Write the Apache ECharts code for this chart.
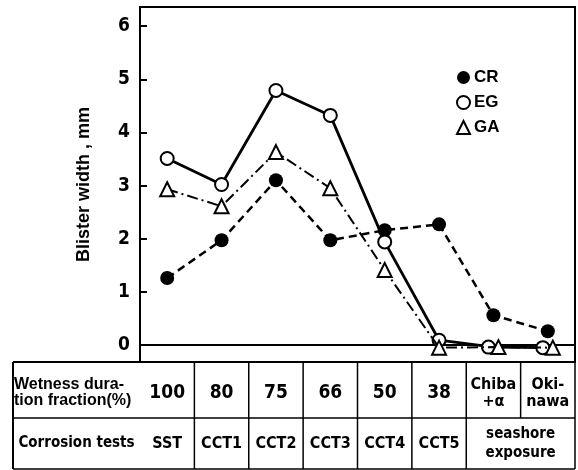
<!DOCTYPE html>
<html>
<head>
<meta charset="utf-8">
<script src="https://cdn.jsdelivr.net/npm/echarts@6/dist/echarts.min.js"></script>
<style>
  html, body { margin: 0; padding: 0; background: #fff; }
  #main { width: 578px; height: 470px; }
</style>
</head>
<body>
<div id="main"></div>
<script>
// data
const wetness = ["100", "80", "75", "66", "50", "38", "Chiba\n+α", "Oki-\nnawa"];
const corrosionTests = ["SST", "CCT1", "CCT2", "CCT3", "CCT4", "CCT5"];
const seashoreLabel = "seashore\nexposure";
const crValues = [1.26, 1.97, 3.1, 1.97, 2.16, 2.27, 0.56, 0.26];
const egValues = [3.51, 3.02, 4.79, 4.32, 1.94, 0.09, -0.04, -0.05];
const gaValues = [2.93, 2.61, 3.63, 2.95, 1.41, -0.05, -0.04, -0.05];
const yTicks = [0, 1, 2, 3, 4, 5, 6];

const narrow = "'DejaVu Sans', sans-serif";
const sans = "'Liberation Sans', Arial, sans-serif";

// layout
const W = 578, H = 470;
const gridLeft = 140, gridTop = 7, gridRight = 3, gridBottom = 108;
const plotRight = W - gridRight;
const tableTop = H - gridBottom;
const tableMid = 418, tableBottom = 469, tableLeft = 13;
const colW = (W - gridLeft - gridRight) / wetness.length;

const chart = echarts.init(document.getElementById("main"));

// nudge overlapping markers at the last two columns apart
const egData = egValues.map((v, i) => i >= 6 ? { value: v, symbolOffset: [-5, 0] } : v);
const gaData = gaValues.map((v, i) => i >= 6 ? { value: v, symbolOffset: [5, 0] } : v);

const g = [];
const line = (x1, y1, x2, y2, w) => g.push({
  type: "line", shape: { x1, y1, x2, y2 },
  style: { stroke: "#000", lineWidth: w || 1.5 }
});
// table frame
line(tableLeft, tableTop, gridLeft, tableTop, 2);
line(tableLeft, tableTop, tableLeft, tableBottom, 2);
line(tableLeft, tableMid, plotRight, tableMid, 1.5);
line(tableLeft, tableBottom, plotRight, tableBottom, 1.5);
for (let k = 1; k <= wetness.length; k++) {
  const x = gridLeft + k * colW;
  line(x, tableTop, x, k === 7 ? tableMid : tableBottom, 1.5);
}
// table texts
g.push({
  type: "text", left: tableLeft + 1, top: 377,
  style: { text: "Wetness dura-\ntion fraction(%)", font: "bold 16px " + sans, fill: "#000", lineHeight: 16 }
});
g.push({
  type: "text", x: (tableLeft + gridLeft) / 2, y: 443,
  style: { text: "Corrosion tests", font: "bold condensed 15px " + narrow, fill: "#000", align: "center", verticalAlign: "middle" }
});
corrosionTests.forEach((t, i) => g.push({
  type: "text", x: gridLeft + (i + 0.5) * colW, y: 444,
  style: { text: t, font: "bold condensed 16px " + narrow, fill: "#000", align: "center", verticalAlign: "middle" }
}));
g.push({
  type: "text", x: gridLeft + 7 * colW, y: 444,
  style: { text: seashoreLabel, font: "bold condensed 15px " + narrow, fill: "#000", align: "center", verticalAlign: "middle", lineHeight: 19 }
});

const option = {
  animation: false,
  backgroundColor: "#fff",
  grid: {
    left: gridLeft, right: gridRight, top: gridTop, bottom: gridBottom,
    show: true, borderColor: "#000", borderWidth: 2, backgroundColor: "transparent"
  },
  legend: {
    orient: "vertical",
    left: 451, top: 64,
    itemWidth: 13, itemHeight: 13, itemGap: 8,
    textStyle: { color: "#000", fontWeight: "bold", fontSize: 17, fontFamily: sans, padding: [0, 0, 0, -1] },
    data: [
      { name: "CR", icon: "circle", itemStyle: { color: "#000" } },
      { name: "EG", icon: "emptyCircle", itemStyle: { color: "#000", borderColor: "#000", borderWidth: 1.5 } },
      { name: "GA", icon: "emptyTriangle", itemStyle: { color: "#000", borderColor: "#000", borderWidth: 1.5 } }
    ]
  },
  xAxis: {
    type: "category",
    data: wetness,
    boundaryGap: true,
    axisLine: { show: true, lineStyle: { color: "#000", width: 2 } },
    axisTick: { show: false },
    axisLabel: {
      interval: 0, margin: 31, verticalAlign: "middle",
      color: "#000", fontWeight: "bold condensed", fontSize: 19, fontFamily: narrow,
      formatter: v => v.indexOf("\n") >= 0 ? v.split("\n").map(s => "{s|" + s + "}").join("\n") : v,
      rich: { s: { fontSize: 16, fontWeight: "bold condensed", fontFamily: narrow, lineHeight: 17, color: "#000" } }
    },
    splitLine: { show: false }
  },
  yAxis: {
    type: "value",
    min: -0.32, max: 6.36,
    name: "Blister width , mm",
    nameLocation: "middle",
    nameGap: 47,
    nameTextStyle: { color: "#000", fontWeight: "bold", fontSize: 18, fontFamily: sans },
    axisLine: { show: true, lineStyle: { color: "#000", width: 2 } },
    axisTick: { show: true, inside: true, length: 7, customValues: yTicks, lineStyle: { color: "#000", width: 2 } },
    axisLabel: { customValues: yTicks, margin: 10, color: "#000", fontWeight: "bold condensed", fontSize: 19, fontFamily: narrow },
    splitLine: { show: false }
  },
  series: [
    {
      name: "CR", type: "line", data: crValues,
      symbol: "circle", symbolSize: 14,
      itemStyle: { color: "#000" },
      lineStyle: { color: "#000", width: 2.5, type: [8, 5] },
      z: 3
    },
    {
      name: "EG", type: "line", data: egData,
      symbol: "emptyCircle", symbolSize: 13,
      itemStyle: { color: "#000", borderWidth: 1.5 },
      lineStyle: { color: "#000", width: 2.8 },
      z: 4
    },
    {
      name: "GA", type: "line", data: gaData,
      symbol: "emptyTriangle", symbolSize: 14,
      itemStyle: { color: "#000", borderWidth: 1.5 },
      lineStyle: { color: "#000", width: 2, type: [11, 4, 2, 4] },
      z: 5
    }
  ],
  graphic: g
};

chart.setOption(option);
</script>
</body>
</html>
